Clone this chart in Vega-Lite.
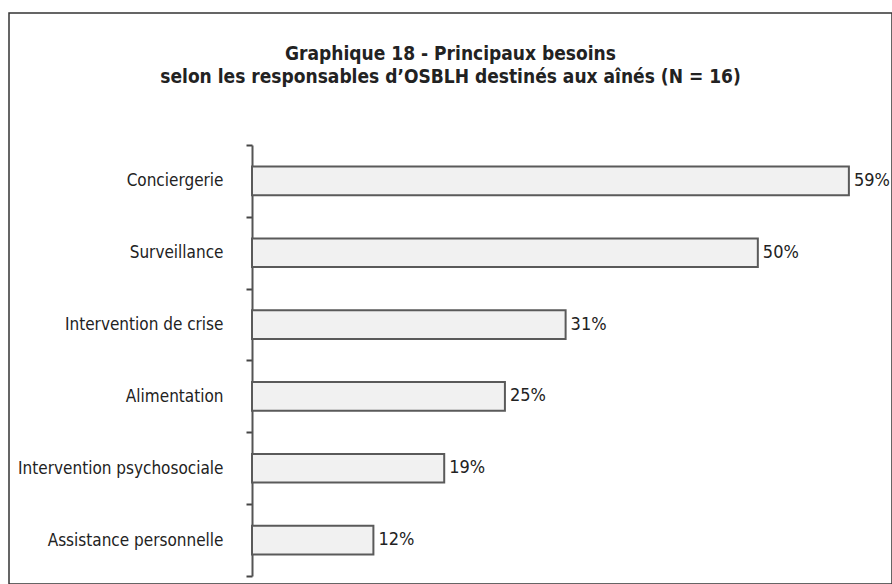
{
  "$schema": "https://vega.github.io/schema/vega-lite/v6.json",
  "autosize": {"type": "none"},
  "padding": {"left": 9, "top": 13, "right": 0, "bottom": 0},
  "width": 883,
  "height": 571,
  "background": "white",
  "config": {
    "view": {"stroke": "#333333", "strokeWidth": 1.5},
    "font": "DejaVu Sans Condensed, serif"
  },
  "title": {
    "text": ["Graphique 18 - Principaux besoins", "selon les responsables d’OSBLH destinés aux aînés (N = 16)"],
    "font": "DejaVu Sans Condensed, serif",
    "fontSize": 19,
    "fontWeight": "bold",
    "color": "#222222",
    "anchor": "middle",
    "frame": "group",
    "offset": -83,
    "lineHeight": 23
  },
  "data": {
    "values": [
      {"besoin": "Conciergerie", "pct": 0.59},
      {"besoin": "Surveillance", "pct": 0.50},
      {"besoin": "Intervention de crise", "pct": 0.31},
      {"besoin": "Alimentation", "pct": 0.25},
      {"besoin": "Intervention psychosociale", "pct": 0.19},
      {"besoin": "Assistance personnelle", "pct": 0.12}
    ]
  },
  "encoding": {
    "y": {
      "field": "besoin",
      "type": "nominal",
      "sort": null,
      "scale": {"range": [132, 563], "paddingInner": 0, "paddingOuter": 0},
      "axis": {
        "title": null,
        "orient": "left",
        "offset": -243,
        "tickBand": "extent",
        "tickSize": 6,
        "tickWidth": 2,
        "tickColor": "#444444",
        "domainColor": "#555555",
        "domainWidth": 2,
        "labelPadding": 23,
        "labelFont": "DejaVu Sans Condensed, serif",
        "labelFontSize": 17,
        "labelColor": "#222222",
        "labelLimit": 400
      }
    },
    "x": {
      "field": "pct",
      "type": "quantitative",
      "scale": {"domain": [0, 0.6], "range": [243, 850]},
      "axis": null
    }
  },
  "layer": [
    {
      "mark": {"type": "bar", "height": {"band": 0.4}, "fill": "#f1f1f1", "stroke": "#5a5a5a", "strokeWidth": 2}
    },
    {
      "mark": {"type": "text", "align": "left", "dx": 5, "baseline": "middle", "font": "DejaVu Sans Condensed, serif", "fontSize": 18, "color": "#222222"},
      "encoding": {"text": {"field": "pct", "type": "quantitative", "format": ".0%"}}
    }
  ]
}
